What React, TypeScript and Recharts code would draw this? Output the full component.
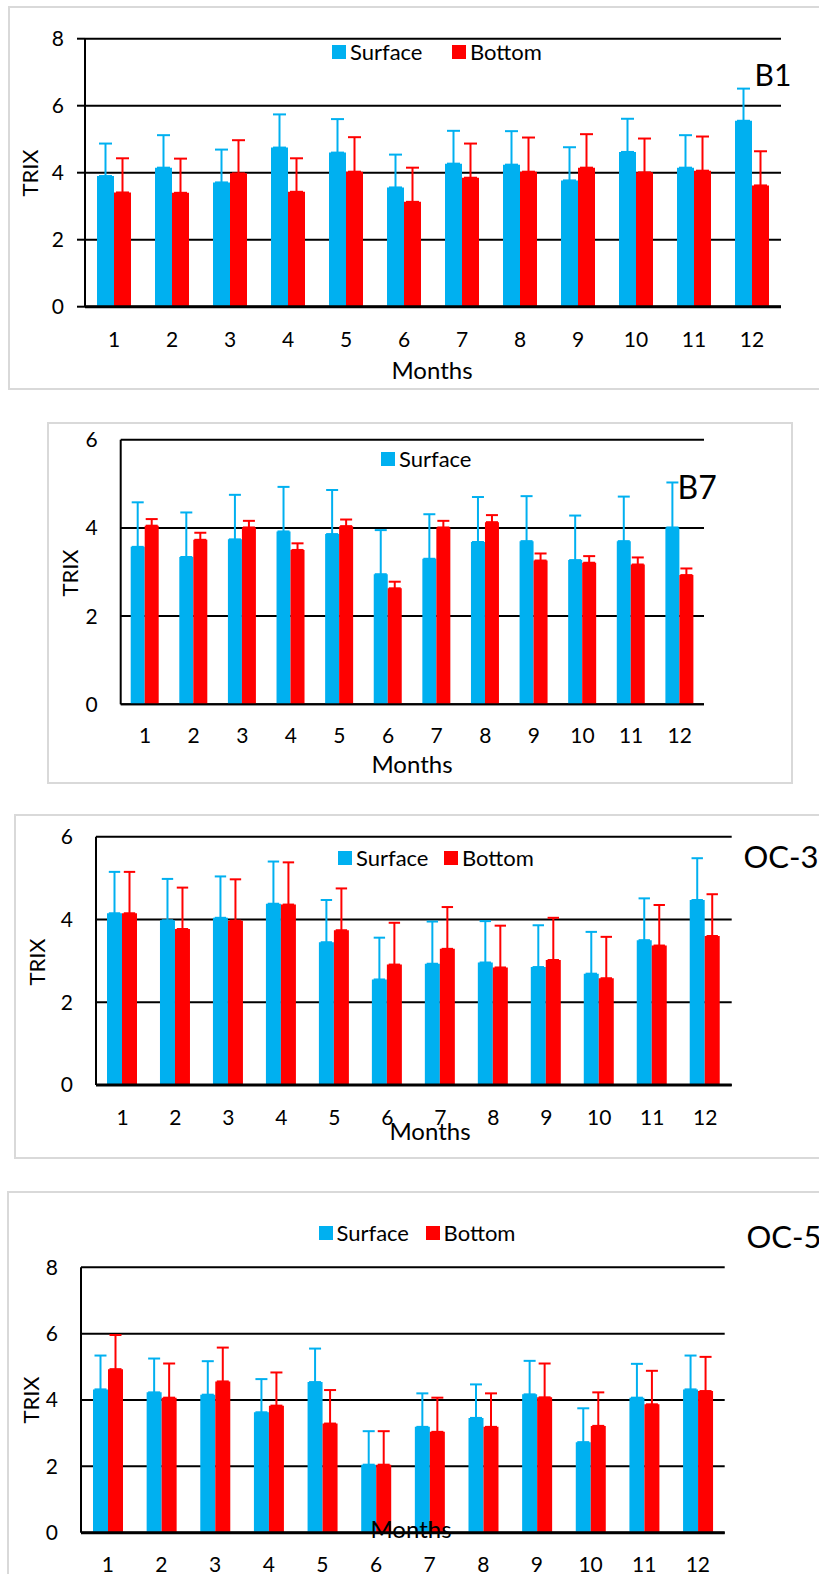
import React from 'react';
import { BarChart, Bar, XAxis, YAxis, CartesianGrid, ErrorBar, Legend } from 'recharts';

const FONT = 'Lato, "Noto Sans", sans-serif';
const BLUE = '#00B0F0';
const RED = '#FF0000';

const months = ['1', '2', '3', '4', '5', '6', '7', '8', '9', '10', '11', '12'];

// Station B1
const b1Surface = [3.9, 4.15, 3.71, 4.75, 4.6, 3.56, 4.27, 4.24, 3.77, 4.62, 4.15, 5.55];
const b1SurfaceSd = [0.97, 0.97, 0.98, 0.99, 1.0, 0.98, 0.98, 1.0, 0.99, 0.99, 0.97, 0.96];
const b1Bottom = [3.41, 3.4, 3.98, 3.43, 4.03, 3.13, 3.85, 4.03, 4.15, 4.01, 4.06, 3.62];
const b1BottomSd = [1.02, 1.02, 0.99, 1.0, 1.03, 1.02, 1.02, 1.02, 1.0, 1.01, 1.02, 1.02];

// Station B7
const b7Surface = [3.57, 3.34, 3.74, 3.92, 3.86, 2.95, 3.3, 3.68, 3.7, 3.27, 3.7, 4.01];
const b7SurfaceSd = [1.01, 1.01, 1.01, 1.01, 1.0, 1.0, 1.01, 1.02, 1.02, 1.01, 1.01, 1.02];
const b7Bottom = [4.05, 3.73, 4.01, 3.5, 4.04, 2.63, 4.01, 4.13, 3.26, 3.21, 3.17, 2.93];
const b7BottomSd = [0.15, 0.16, 0.15, 0.15, 0.15, 0.15, 0.15, 0.16, 0.16, 0.15, 0.16, 0.15];

// Station OC-3
const oc3Surface = [4.15, 3.98, 4.04, 4.38, 3.45, 2.55, 2.93, 2.96, 2.85, 2.69, 3.5, 4.47];
const oc3SurfaceSd = [1.0, 1.0, 1.0, 1.02, 1.02, 1.01, 1.02, 1.0, 1.01, 1.01, 1.01, 1.01];
const oc3Bottom = [4.15, 3.77, 3.97, 4.36, 3.74, 2.91, 3.29, 2.84, 3.02, 2.58, 3.37, 3.6];
const oc3BottomSd = [1.0, 1.0, 1.0, 1.02, 1.01, 1.01, 1.01, 1.01, 1.02, 1.0, 0.98, 1.01];

// Station OC-5
const oc5Surface = [4.32, 4.23, 4.16, 3.63, 4.54, 2.05, 3.19, 3.46, 4.17, 2.73, 4.07, 4.32];
const oc5SurfaceSd = [1.02, 1.02, 1.01, 1.0, 1.01, 1.01, 1.01, 1.01, 1.01, 1.02, 1.02, 1.02];
const oc5Bottom = [4.93, 4.07, 4.56, 3.83, 3.29, 2.05, 3.04, 3.19, 4.08, 3.22, 3.87, 4.27];
const oc5BottomSd = [1.03, 1.03, 1.02, 1.0, 1.01, 1.01, 1.03, 1.01, 1.02, 1.01, 1.01, 1.03];

const ticks8 = [0, 2, 4, 6, 8];
const ticks6 = [0, 2, 4, 6];

function buildRows(s: number[], sSd: number[], b: number[], bSd: number[]) {
  return months.map((m, i) => ({
    month: m,
    surface: s[i],
    surfaceErr: [0, sSd[i]],
    bottom: b[i],
    bottomErr: [0, bSd[i]],
  }));
}

interface PanelSpec {
  station: string;
  rows: ReturnType<typeof buildRows>;
  top: number;
  height: number;
  left: number;
  right: number;
  plotTop: number;
  plotBottom: number;
  yMax: number;
  yTicks: number[];
  barSize: number;
  cap: number;
  tickLen: number;
  yTickGap: number;
  xTickGap: number;
  baseWidth: number;
  legendKeys: string[];
  legendX: number[];
  legendY: number;
  frame: { l: number; t: number; w: number; h: number };
  title: { x: number; y: number; size: number };
  trix: { x: number; y: number };
  monthsLbl: { x: number; y: number };
}

const panels: PanelSpec[] = [
  {
    station: 'B1',
    rows: buildRows(b1Surface, b1SurfaceSd, b1Bottom, b1BottomSd),
    top: 0, height: 400, left: 85, right: 781, plotTop: 38.7, plotBottom: 306.7,
    yMax: 8, yTicks: ticks8, barSize: 17, cap: 6.5, tickLen: 8, yTickGap: 13, xTickGap: 25, baseWidth: 3,
    legendKeys: ['surface', 'bottom'], legendX: [332, 452], legendY: 52,
    frame: { l: 8, t: 6, w: 815, h: 384 },
    title: { x: 754.5, y: 58.9, size: 30 },
    trix: { x: 30, y: 173 },
    monthsLbl: { x: 432, y: 370 },
  },
  {
    station: 'B7',
    rows: buildRows(b7Surface, b7SurfaceSd, b7Bottom, b7BottomSd),
    top: 415, height: 370, left: 120.7, right: 704, plotTop: 439.7, plotBottom: 704.3,
    yMax: 6, yTicks: ticks6, barSize: 14, cap: 6, tickLen: 0, yTickGap: 23, xTickGap: 24, baseWidth: 2,
    legendKeys: ['surface'], legendX: [381], legendY: 458.7,
    frame: { l: 47, t: 422, w: 746, h: 362 },
    title: { x: 677.5, y: 470.6, size: 32 },
    trix: { x: 70, y: 573 },
    monthsLbl: { x: 412, y: 764 },
  },
  {
    station: 'OC-3',
    rows: buildRows(oc3Surface, oc3SurfaceSd, oc3Bottom, oc3BottomSd),
    top: 800, height: 360, left: 96, right: 731.7, plotTop: 836.7, plotBottom: 1085,
    yMax: 6, yTicks: ticks6, barSize: 15, cap: 5.7, tickLen: 0, yTickGap: 23, xTickGap: 25, baseWidth: 3,
    legendKeys: ['surface', 'bottom'], legendX: [338, 444], legendY: 858.3,
    frame: { l: 14, t: 814, w: 810, h: 345 },
    title: { x: 743.5, y: 840.7, size: 31 },
    trix: { x: 36.7, y: 961.7 },
    monthsLbl: { x: 430, y: 1131 },
  },
  {
    station: 'OC-5',
    rows: buildRows(oc5Surface, oc5SurfaceSd, oc5Bottom, oc5BottomSd),
    top: 1180, height: 394, left: 81, right: 724.7, plotTop: 1267.3, plotBottom: 1532.7,
    yMax: 8, yTicks: ticks8, barSize: 15, cap: 6, tickLen: 0, yTickGap: 23, xTickGap: 24, baseWidth: 3,
    legendKeys: ['surface', 'bottom'], legendX: [318.5, 425.6], legendY: 1232.7,
    frame: { l: 7, t: 1191, w: 815, h: 400 },
    title: { x: 746.5, y: 1220.7, size: 31 },
    trix: { x: 30.7, y: 1400 },
    monthsLbl: { x: 411, y: 1529 },
  },
];

function SwatchLegend({ payload, keys, xs }: { payload?: any[]; keys: string[]; xs: number[] }) {
  const items = keys
    .map((k) => (payload ?? []).find((p) => p.dataKey === k))
    .filter(Boolean);
  return (
    <div style={{ position: 'relative', width: 819, height: 22, fontFamily: FONT, fontSize: 22, lineHeight: 1, color: '#000' }}>
      {items.map((p: any, i: number) => (
        <div key={p.dataKey} style={{ position: 'absolute', left: xs[i], top: 0, height: 22, display: 'flex', alignItems: 'center', whiteSpace: 'nowrap' }}>
          <span style={{ display: 'inline-block', width: 14, height: 14, background: p.color, marginRight: 4 }} />
          <span>{p.value}</span>
        </div>
      ))}
    </div>
  );
}

function Panel({ spec }: { spec: PanelSpec }) {
  const yAxisW = 60;
  const xAxisH = 40;
  const margin = {
    top: spec.plotTop - spec.top,
    right: 819 - spec.right,
    bottom: spec.height - (spec.plotBottom - spec.top) - xAxisH,
    left: spec.left - yAxisW,
  };
  const tickStyle = { fill: '#000', fontSize: 21, fontFamily: FONT };
  return (
    <div style={{ position: 'absolute', left: 0, top: spec.top, width: 819, height: spec.height }}>
      <BarChart width={819} height={spec.height} data={spec.rows} margin={margin} barGap={0}>
        <CartesianGrid vertical={false} stroke="#000" strokeWidth={2} />
        <XAxis
          dataKey="month"
          height={xAxisH}
          interval={0}
          tickLine={false}
          tickSize={0}
          tickMargin={spec.xTickGap}
          axisLine={{ stroke: '#000', strokeWidth: spec.baseWidth }}
          tick={tickStyle}
        />
        <YAxis
          type="number"
          width={yAxisW}
          domain={[0, spec.yMax]}
          ticks={spec.yTicks}
          interval={0}
          tickLine={spec.tickLen ? { stroke: '#000', strokeWidth: 2 } : false}
          tickSize={spec.tickLen}
          tickMargin={spec.yTickGap}
          axisLine={{ stroke: '#000', strokeWidth: 2 }}
          tick={tickStyle}
        />
        <Legend
          layout="horizontal"
          verticalAlign="middle"
          align="center"
          wrapperStyle={{ left: 0, top: spec.legendY - spec.top - 11, width: 819, height: 22 }}
          content={(props: any) => <SwatchLegend payload={props.payload} keys={spec.legendKeys} xs={spec.legendX} />}
        />
        <Bar dataKey="surface" name="Surface" fill={BLUE} barSize={spec.barSize} isAnimationActive={false}>
          <ErrorBar dataKey="surfaceErr" width={spec.cap} stroke={BLUE} strokeWidth={2} isAnimationActive={false} />
        </Bar>
        <Bar dataKey="bottom" name="Bottom" fill={RED} barSize={spec.barSize} isAnimationActive={false}>
          <ErrorBar dataKey="bottomErr" width={spec.cap} stroke={RED} strokeWidth={2} isAnimationActive={false} />
        </Bar>
      </BarChart>
    </div>
  );
}

const textBase: React.CSSProperties = {
  position: 'absolute',
  fontFamily: FONT,
  lineHeight: 1,
  color: '#000',
  whiteSpace: 'nowrap',
};

export default function App() {
  return (
    <div style={{ position: 'absolute', left: 0, top: 0, width: 819, height: 1574, overflow: 'hidden', background: '#fff' }}>
      {panels.map((p) => (
        <div
          key={`frame-${p.station}`}
          style={{ position: 'absolute', left: p.frame.l, top: p.frame.t, width: p.frame.w, height: p.frame.h, border: '2px solid #d9d9d9', boxSizing: 'border-box' }}
        />
      ))}
      {panels.map((p) => (
        <Panel key={p.station} spec={p} />
      ))}
      {panels.map((p) => (
        <React.Fragment key={`txt-${p.station}`}>
          <div style={{ ...textBase, left: p.title.x, top: p.title.y, fontSize: p.title.size }}>{p.station}</div>
          <div style={{ ...textBase, left: p.trix.x, top: p.trix.y, fontSize: 22, transform: 'translate(-50%, -50%) rotate(-90deg)' }}>TRIX</div>
          <div style={{ ...textBase, left: p.monthsLbl.x, top: p.monthsLbl.y, fontSize: 24, transform: 'translate(-50%, -50%)' }}>Months</div>
        </React.Fragment>
      ))}
    </div>
  );
}
